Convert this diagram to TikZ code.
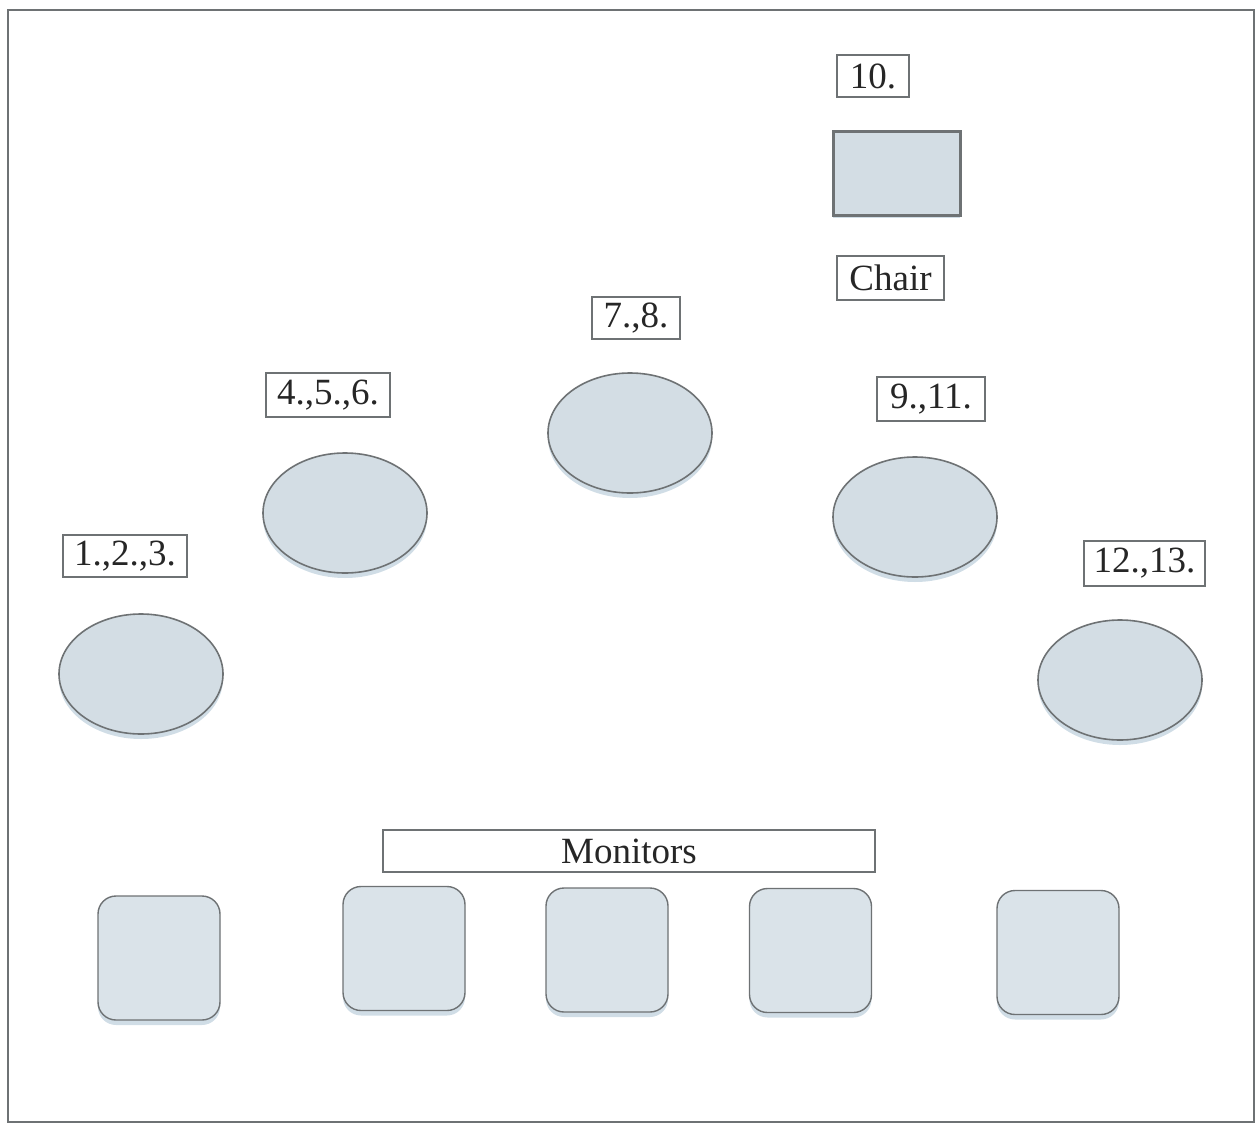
\documentclass[tikz,border=0pt]{standalone}
\usepackage{fontspec}
\setmainfont{Liberation Serif}
\usetikzlibrary{shapes.geometric,shadows}
\definecolor{tablefill}{HTML}{D3DDE4}
\definecolor{monfill}{HTML}{DAE3E9}
\definecolor{edgegray}{HTML}{6E7274}
\definecolor{shadowblue}{HTML}{CBD9E3}
\tikzset{
  lbl/.style={draw=edgegray, line width=0.7pt, inner sep=0pt, text=black!85,
    font=\fontsize{18.5}{20}\selectfont},
  roundtable/.style={ellipse, draw=edgegray, line width=0.8pt, fill=tablefill,
    inner sep=0pt, minimum width=82pt, minimum height=60pt,
    drop shadow={shadow xshift=0pt, shadow yshift=-2.5pt, fill=shadowblue, opacity=0.9}},
  monitor/.style={rectangle, rounded corners=9pt, draw=edgegray, line width=0.7pt,
    fill=monfill, inner sep=0pt, minimum width=61pt, minimum height=62pt,
    drop shadow={shadow xshift=0pt, shadow yshift=-2.5pt, fill=shadowblue, opacity=0.9}},
  chairdesk/.style={rectangle, draw=edgegray, line width=1.5pt, fill=tablefill,
    inner sep=0pt, minimum width=63.5pt, minimum height=42pt,
    drop shadow={shadow xshift=0pt, shadow yshift=-1.5pt, fill=shadowblue, opacity=0.9}},
  frame/.style={draw=edgegray, line width=0.8pt}
}
\begin{document}
\begin{tikzpicture}[x=0.5pt, y=-0.5pt]
\useasboundingbox (0,0) rectangle (1259,1125);
\node[frame, rectangle, inner sep=0pt, minimum width=623pt, minimum height=556pt] (room) at (631,566) {};

\node[lbl, minimum width=36pt, minimum height=21pt] (l10) at (873,76) {10.};
\node[chairdesk] (chairdesk) at (896.5,173) {};
\node[lbl, minimum width=53.5pt, minimum height=22pt] (lchair) at (890.5,278) {Chair};

\node[lbl, minimum width=44pt, minimum height=21pt] (l78) at (636,318) {7.,8.};
\node[roundtable] (t78) at (630,433) {};

\node[lbl, minimum width=62pt, minimum height=22pt] (l456) at (328,395) {4.,5.,6.};
\node[roundtable] (t456) at (345,513) {};

\node[lbl, minimum width=54pt, minimum height=22pt] (l911) at (931,399) {9.,11.};
\node[roundtable] (t911) at (915,517) {};

\node[lbl, minimum width=62pt, minimum height=21pt] (l123) at (125,556) {1.,2.,3.};
\node[roundtable] (t123) at (141,674) {};

\node[lbl, minimum width=60.5pt, minimum height=22.5pt] (l1213) at (1144.5,563.5) {12.,13.};
\node[roundtable] (t1213) at (1120,680) {};

\node[lbl, minimum width=246pt, minimum height=21pt] (lmon) at (629,851) {Monitors};
\node[monitor] (m1) at (159,958) {};
\node[monitor] (m2) at (404,948.5) {};
\node[monitor] (m3) at (607,950) {};
\node[monitor] (m4) at (810.5,950.5) {};
\node[monitor] (m5) at (1058,952.5) {};
\end{tikzpicture}
\end{document}
